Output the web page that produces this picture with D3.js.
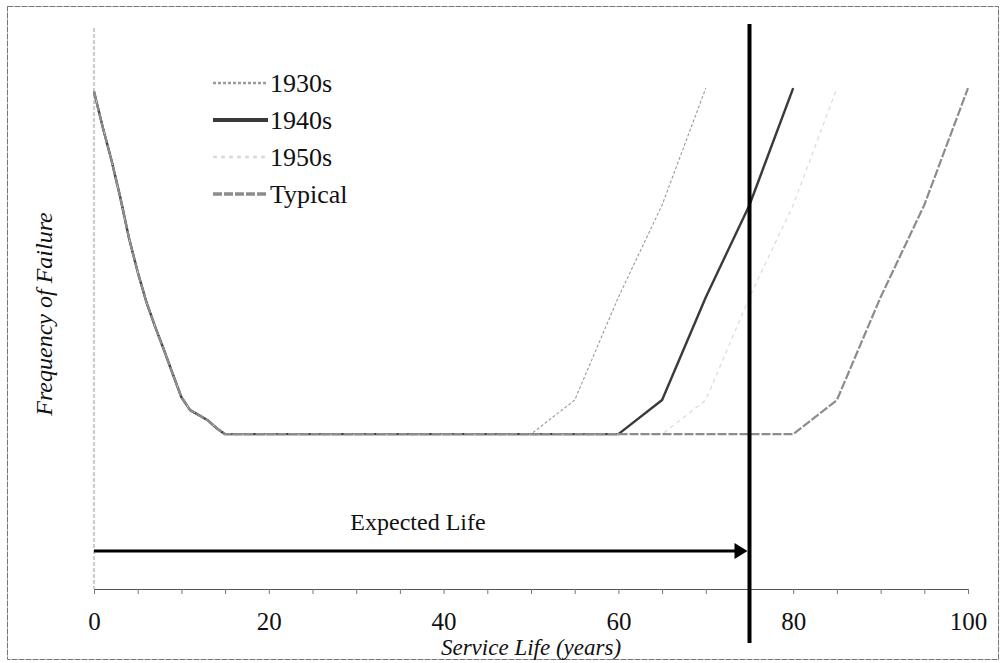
<!DOCTYPE html>
<html>
<head>
<meta charset="utf-8">
<script src="https://cdn.jsdelivr.net/npm/d3@7"></script>
<style>
  body { margin: 0; background: #fff; }
  svg { display: block; font-family: "Liberation Serif", "Times New Roman", serif; }
</style>
</head>
<body>
<svg id="chart" width="1001" height="663"></svg>
<script>
// early failures (shared by every curve)
var earlyYears = [0, 1, 2, 3, 4, 5, 6, 7, 8, 9, 10, 11, 12, 13, 14, 15];
var earlyFreq  = [89, 82.6, 76.7, 70.1, 62.8, 56.7, 51.3, 46.9, 42.8, 38.5, 34.3, 32, 31.1, 30.2, 28.8, 27.7];

// wear-out portions
var wear1930Years = [50, 55, 60, 65, 70];
var wear1930Freq  = [27.7, 33.8, 52.2, 68.7, 89.6];
var wear1940Years = [60, 65, 70, 75, 80];
var wear1940Freq  = [27.7, 33.8, 52.2, 68.7, 89.6];
var wear1950Years = [65, 70, 75, 80, 85];
var wear1950Freq  = [27.7, 33.8, 52.2, 68.7, 89.6];
var wearTypYears  = [80, 85, 90, 95, 100];
var wearTypFreq   = [27.7, 33.8, 52.2, 68.7, 89.6];

var seriesNames = ["1930s", "1940s", "1950s", "Typical"];
var xTicks = [0, 20, 40, 60, 80, 100];
var expectedLife = 75;

var svg = d3.select("#chart");
var plotLeft = 94, plotRight = 968, plotTop = 30, plotBottom = 589;

var x = d3.scaleLinear().domain([0, 100]).range([plotLeft, plotRight]);
var y = d3.scaleLinear().domain([0, 100]).range([plotBottom, plotTop]);

// 外枠
svg.append("rect")
    .attr("x", 7.5).attr("y", 6.5)
    .attr("width", 991).attr("height", 653)
    .attr("fill", "none")
    .attr("stroke", "#777")
    .attr("stroke-dasharray", "6,1");

// y axis line (no ticks)
svg.append("line")
    .attr("x1", x(0)).attr("x2", x(0))
    .attr("y1", plotTop - 2).attr("y2", plotBottom)
    .attr("stroke", "#999")
    .attr("stroke-dasharray", "4,2");

// x axis
var minorTicks = d3.range(0, 101, 5);
var xAxis = d3.axisBottom(x)
    .tickValues(minorTicks)
    .tickSize(5)
    .tickFormat(function(d){ return xTicks.indexOf(d) >= 0 ? d : ""; });
var gx = svg.append("g")
    .attr("transform", "translate(0," + plotBottom + ")")
    .call(xAxis);
gx.select(".domain").attr("stroke", "#555");
gx.selectAll(".tick line").attr("stroke", "#777");
gx.selectAll(".tick text")
    .attr("y", 41)
    .attr("dy", 0)
    .style("font-family", "Liberation Serif")
    .style("font-size", "25px")
    .attr("fill", "#111");

// build series
function build(wy, wf){
    var pts = earlyYears.map(function(d, i){ return [d, earlyFreq[i]]; });
    return pts.concat(wy.map(function(d, i){ return [d, wf[i]]; }));
}
var series = [
    {name: seriesNames[0], pts: build(wear1930Years, wear1930Freq), color: "#9a9a9a", width: 1.1, dash: "3,2"},
    {name: seriesNames[1], pts: build(wear1940Years, wear1940Freq), color: "#3a3a3a", width: 2.4, dash: null},
    {name: seriesNames[2], pts: build(wear1950Years, wear1950Freq), color: "#dadada", width: 1.2, dash: "4,4"},
    {name: seriesNames[3], pts: build(wearTypYears, wearTypFreq),   color: "#8c8c8c", width: 2.2, dash: "9,2"}
];

var line = d3.line()
    .x(function(d){ return x(d[0]); })
    .y(function(d){ return y(d[1]); });

svg.selectAll(".curve")
    .data(series)
    .enter()
    .append("path")
    .attr("class", "curve")
    .attr("d", function(d){ return line(d.pts); })
    .attr("fill", "none")
    .attr("stroke", function(d){ return d.color; })
    .attr("stroke-width", function(d){ return d.width; })
    .attr("stroke-dasharray", function(d){ return d.dash; })
    .attr("stroke-linejoin", "round");

// legend
var legend = svg.selectAll(".legend")
    .data(series)
    .enter()
    .append("g")
    .attr("class", "legend")
    .attr("transform", function(d, i){ return "translate(213," + (83 + i * 37) + ")"; });
legend.append("line")
    .attr("x1", 0).attr("x2", 55)
    .attr("stroke", function(d){ return d.color; })
    .attr("stroke-width", function(d){ return d.width + 1.5; })
    .attr("stroke-dasharray", function(d){ return d.dash; });
legend.append("text")
    .attr("x", 57).attr("y", 9)
    .style("font-size", "26px")
    .attr("fill", "#111")
    .text(function(d){ return d.name; });

// expected life marker
svg.append("line")
    .attr("x1", x(expectedLife)).attr("x2", x(expectedLife))
    .attr("y1", 24).attr("y2", 643)
    .attr("stroke", "#000")
    .attr("stroke-width", 4);

var ay = 551;
svg.append("line")
    .attr("x1", x(0)).attr("x2", x(expectedLife) - 12)
    .attr("y1", ay).attr("y2", ay)
    .attr("stroke", "#000")
    .attr("stroke-width", 3);
svg.append("path")
    .attr("d", "M" + (x(expectedLife) - 2) + "," + ay +
               "L" + (x(expectedLife) - 15) + "," + (ay - 8) +
               "L" + (x(expectedLife) - 15) + "," + (ay + 8) + "Z")
    .attr("fill", "#000");
svg.append("text")
    .attr("x", 418).attr("y", 530)
    .attr("text-anchor", "middle")
    .style("font-size", "24px")
    .attr("fill", "#111")
    .text("Expected Life");

// axis titles
svg.append("text")
    .attr("x", (plotLeft + plotRight) / 2).attr("y", 655)
    .attr("text-anchor", "middle")
    .style("font-size", "23px")
    .style("font-style", "italic")
    .attr("fill", "#111")
    .text("Service Life (years)");
svg.append("text")
    .attr("transform", "translate(52,314) rotate(-90)")
    .attr("text-anchor", "middle")
    .style("font-size", "24px")
    .style("font-style", "italic")
    .attr("fill", "#111")
    .text("Frequency of Failure");
</script>
</body>
</html>
